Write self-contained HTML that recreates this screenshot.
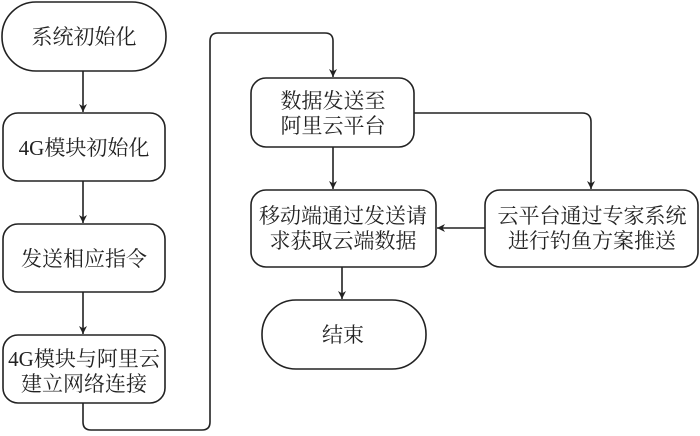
<!DOCTYPE html>
<html><head><meta charset="utf-8"><style>
body{margin:0;background:#fff}
svg text{font-family:"Liberation Serif","Noto Serif CJK SC",serif;font-size:21px;fill:#222;text-anchor:middle}
</style></head><body>
<svg width="700" height="431" viewBox="0 0 700 431" xmlns="http://www.w3.org/2000/svg">
<defs><marker id="a" viewBox="0 0 10 10" refX="10" refY="5" markerWidth="8" markerHeight="8" orient="auto" markerUnits="userSpaceOnUse"><path d="M0,0 L10,5 L0,10 L3,5 z" fill="#222"/></marker></defs>
<g fill="none" stroke="#222" stroke-width="1.6">
<rect x="2" y="2" width="164" height="69" rx="34" ry="34"/>
<rect x="3" y="113" width="162" height="68" rx="15"/>
<rect x="3" y="224" width="162" height="68" rx="15"/>
<rect x="3" y="335" width="162" height="68" rx="15"/>
<rect x="251" y="78" width="163" height="69" rx="15"/>
<rect x="251" y="190" width="185" height="77" rx="15"/>
<rect x="485" y="190" width="213" height="77" rx="15"/>
<rect x="262" y="300" width="164" height="69" rx="34" ry="34"/>
<line x1="83" y1="71" x2="83" y2="112" marker-end="url(#a)"/>
<line x1="83" y1="181" x2="83" y2="223" marker-end="url(#a)"/>
<line x1="83" y1="292" x2="83" y2="334" marker-end="url(#a)"/>
<path d="M83,403 V422 Q83,430 91,430 H202 Q210,430 210,422 V41 Q210,33 218,33 H325 Q333,33 333,41 V77" marker-end="url(#a)"/>
<line x1="333" y1="147" x2="333" y2="189" marker-end="url(#a)"/>
<line x1="342" y1="267" x2="342" y2="299" marker-end="url(#a)"/>
<path d="M414,113 H582 Q591,113 591,122 V189" marker-end="url(#a)"/>
<line x1="485" y1="228" x2="437" y2="228" marker-end="url(#a)"/>
</g>
<text x="84" y="44">系统初始化</text>
<text x="84" y="155">4G模块初始化</text>
<text x="84" y="266">发送相应指令</text>
<text x="84" y="366">4G模块与阿里云</text>
<text x="84" y="391">建立网络连接</text>
<text x="333" y="108">数据发送至</text>
<text x="333" y="133">阿里云平台</text>
<text x="343" y="223">移动端通过发送请</text>
<text x="343" y="248">求获取云端数据</text>
<text x="592" y="223">云平台通过专家系统</text>
<text x="592" y="248">进行钓鱼方案推送</text>
<text x="343" y="342">结束</text>
</svg>
</body></html>
